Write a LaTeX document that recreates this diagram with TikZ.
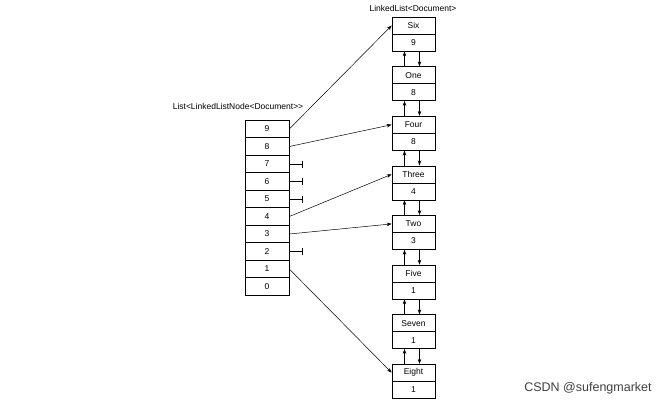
\documentclass[tikz,border=0pt]{standalone}
\usepackage{fontspec}
\setmainfont{Liberation Sans}
\usetikzlibrary{arrows.meta}
\begin{document}
\begin{tikzpicture}[x=1pt,y=-1pt,
  cell/.style={draw,line width=0.6pt,minimum width=44pt,minimum height=17.5pt,inner sep=0pt,font=\fontsize{8.5}{9}\selectfont},
  lcell/.style={draw,line width=0.6pt,minimum width=43pt,minimum height=17pt,inner sep=0pt,font=\fontsize{8.5}{9}\selectfont},
  ptr/.style={-{Stealth[length=5pt,width=3.5pt]},line width=0.5pt},
  nul/.style={-{Bar[width=7pt]},line width=0.5pt},
  lbl/.style={font=\fontsize{8.5}{9}\selectfont}]
\useasboundingbox (0,0) rectangle (665,408);
% index list
\foreach \i [count=\k from 0] in {9,8,7,6,5,4,3,2,1,0}
  \node[cell] (c\i) at (267,{129+17.5*\k}) {\i};
\node[lbl] (ltitle) at (238,106) {List<LinkedListNode<Document>{}>};
% linked list
\foreach \n/\v [count=\k from 0] in {Six/9,One/8,Four/8,Three/4,Two/3,Five/1,Seven/1,Eight/1}{
  \node[lcell] (n\k) at (413.5,{25.5+49.6*\k}) {\n};
  \node[lcell] (v\k) at (413.5,{42.5+49.6*\k}) {\v};
}
\node[lbl] (ttitle) at (413,8) {LinkedList<Document>};
\foreach \a [evaluate=\a as \b using int(\a+1)] in {0,...,6}{
  \draw[ptr] ([xshift=-9pt]n\b.north) -- ([xshift=-9pt]v\a.south);
  \draw[ptr] ([xshift=6pt]v\a.south) -- ([xshift=6pt]n\b.north);
}
% pointers
\draw[ptr] (c9.east) -- (n0.west);
\draw[ptr] (c8.east) -- (n2.west);
\draw[ptr] (c4.east) -- (n3.west);
\draw[ptr] (c3.east) -- (n4.west);
\draw[ptr] (c1.east) -- (n7.west);
\foreach \i in {7,6,5,2}{
  \coordinate (e\i) at ([xshift=13pt]c\i.east);
  \draw[nul] (c\i.east) -- (e\i);
}
\node[font=\fontsize{12.5}{14}\selectfont,text=black!75] (wm) at (588,388) {CSDN @sufengmarket};
\end{tikzpicture}
\end{document}
